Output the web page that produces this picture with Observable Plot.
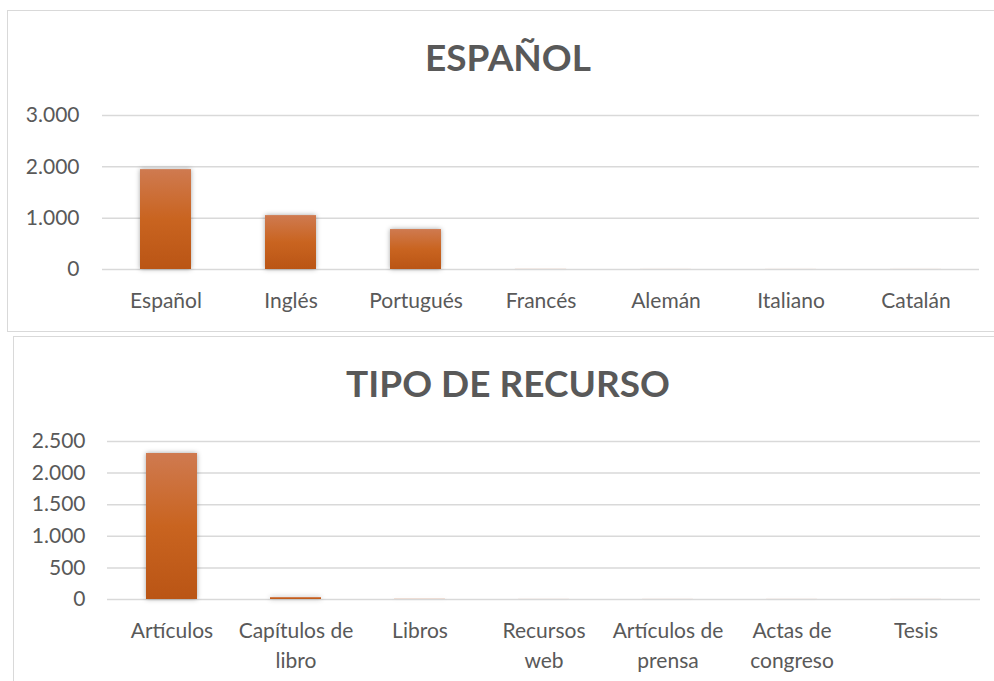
<!DOCTYPE html>
<html><head><meta charset="utf-8">
<script src="https://cdn.jsdelivr.net/npm/d3@7"></script>
<script src="https://cdn.jsdelivr.net/npm/@observablehq/plot@0.6"></script>
<style>
body{margin:0;background:#fff;width:994px;height:681px;overflow:hidden;position:relative;font-family:Lato,sans-serif;}
.frame{position:absolute;border:1.5px solid #d9d9d9;}
.title{position:absolute;left:0;width:1016px;text-align:center;font-weight:bold;font-size:37px;line-height:37px;color:#595959;}
.chart{position:absolute;left:0;}
g[aria-label="bar"] rect{filter:drop-shadow(0 0 2.5px rgba(0,0,0,0.35));}
</style></head>
<body>
<div class="frame" style="left:7px;top:10px;width:1100px;height:320px"></div>
<div class="frame" style="left:13px;top:336px;width:1100px;height:400px"></div>
<div class="title" style="top:38px">ESPAÑOL</div>
<div id="c1" class="chart" style="top:90px"></div>
<div class="title" style="top:364px">TIPO DE RECURSO</div>
<div id="c2" class="chart" style="top:420px"></div>
<script>
// Chart 1: idioma
const idiomas = ["Español", "Inglés", "Portugués", "Francés", "Alemán", "Italiano", "Catalán"];
const idiomaValores = [1945, 1050, 778, 2, 1, 1, 1];
const idiomaTicks = [0, 1000, 2000, 3000];

// Chart 2: tipo de recurso
const recursos = ["Artículos", "Capítulos de libro", "Libros", "Recursos web", "Artículos de prensa", "Actas de congreso", "Tesis"];
const recursoEtiquetas = ["Artículos", "Capítulos de\nlibro", "Libros", "Recursos\nweb", "Artículos de\nprensa", "Actas de\ncongreso", "Tesis"];
const recursoValores = [2310, 30, 3, 1, 1, 1, 1];
const recursoTicks = [0, 500, 1000, 1500, 2000, 2500];

const fmt = d => d3.format(",")(d).replace(/,/g, ".");

function chart({cats, vals, labels, ticks, height, mt, mb, ml, mr, ypad, gid}) {
  const data = cats.map((c, i) => ({cat: c, v: vals[i]}));
  const svg = Plot.plot({
    width: 994, height,
    marginTop: mt, marginBottom: mb, marginLeft: ml, marginRight: mr,
    style: {fontFamily: "Lato, sans-serif", fontSize: "21px", color: "#595959", background: "transparent", overflow: "visible"},
    x: {domain: cats, paddingInner: 0.59, paddingOuter: 0.295, label: null},
    y: {domain: [0, d3.max(ticks)], label: null},
    marks: [
      Plot.ruleY(ticks, {stroke: "#d9d9d9", strokeWidth: 1.5, strokeOpacity: 1}),
      Plot.barY(data, {x: "cat", y: "v", fill: `url(#${gid})`}),
      Plot.axisY({ticks, tickSize: 0, tickPadding: ypad, tickFormat: fmt, label: null, fill: "#595959"}),
      Plot.axisX({tickSize: 0, tickPadding: 17, tickFormat: d => labels[cats.indexOf(d)], label: null, lineHeight: 1.43, fill: "#595959"})
    ]
  });
  const defs = d3.select(svg).insert("defs", ":first-child");
  const g = defs.append("linearGradient").attr("id", gid).attr("x1", 0).attr("y1", 0).attr("x2", 0).attr("y2", 1);
  g.append("stop").attr("offset", "0%").attr("stop-color", "#CF7A50");
  g.append("stop").attr("offset", "50%").attr("stop-color", "#C96420");
  g.append("stop").attr("offset", "100%").attr("stop-color", "#BA5515");
  return svg;
}

document.getElementById("c1").append(chart({
  cats: idiomas, vals: idiomaValores, labels: idiomas, ticks: idiomaTicks,
  height: 240, mt: 25, mb: 61, ml: 102, mr: 15, ypad: 23, gid: "grad1"
}));
document.getElementById("c2").append(chart({
  cats: recursos, vals: recursoValores, labels: recursoEtiquetas, ticks: recursoTicks,
  height: 261, mt: 21, mb: 82, ml: 107, mr: 14, ypad: 22, gid: "grad2"
}));
</script>
</body></html>
